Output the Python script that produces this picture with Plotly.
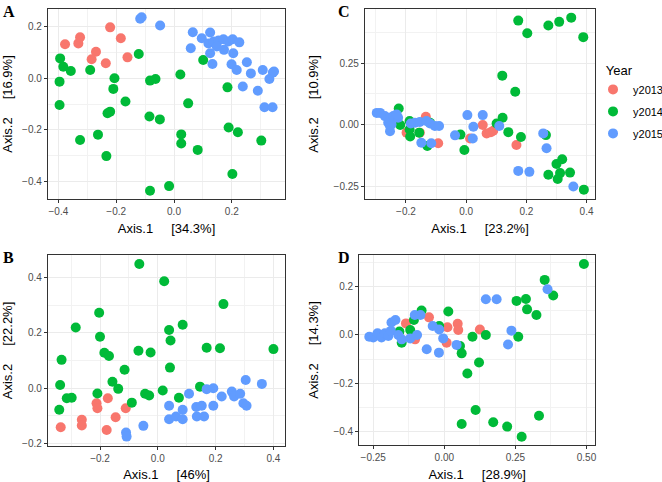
import plotly.graph_objects as go

# Couleurs ggplot par défaut
COULEURS = {"y2013": "#F8766D", "y2014": "#00BA38", "y2015": "#619CFF"}
ANNEES = ["y2013", "y2014", "y2015"]

# Panneau A
a_x_2013 = [-0.377, -0.331, -0.325, -0.221, -0.184, -0.270, -0.285, -0.236, -0.161]
a_y_2013 = [0.132, 0.135, 0.159, 0.197, 0.155, 0.103, 0.074, 0.058, 0.081]
a_x_2014 = [-0.394, -0.383, -0.357, -0.396, -0.396, -0.290, -0.206, -0.210, -0.168, -0.230, -0.221,
            -0.325, -0.263, -0.234, -0.122, -0.083, -0.064, -0.085, -0.049, -0.083, -0.017, 0.022,
            0.025, 0.025, 0.049, 0.082, 0.101, 0.185, 0.189, 0.221, 0.202, 0.302]
a_y_2014 = [0.077, 0.045, 0.028, -0.013, -0.103, 0.032, 0.000, -0.041, -0.090, -0.135, -0.129,
            -0.239, -0.218, -0.301, 0.094, -0.009, -0.003, -0.148, -0.159, -0.435, -0.417, 0.015,
            -0.217, -0.252, -0.097, -0.277, 0.071, -0.035, -0.190, -0.209, -0.370, -0.241]
a_x_2015 = [-0.117, -0.112, -0.048, 0.065, 0.058, 0.096, 0.125, 0.119, 0.137, 0.125, 0.133, 0.154,
            0.171, 0.173, 0.188, 0.203, 0.226, 0.205, 0.199, 0.217, 0.252, 0.266, 0.238, 0.290,
            0.307, 0.330, 0.342, 0.346, 0.313, 0.341, 0.148]
a_y_2015 = [0.230, 0.236, 0.204, 0.178, 0.116, 0.155, 0.177, 0.135, 0.142, 0.097, 0.055, 0.146,
            0.151, 0.110, 0.142, 0.151, 0.139, 0.097, 0.054, 0.032, 0.062, 0.019, -0.032, -0.048,
            0.032, -0.003, 0.022, 0.026, -0.112, -0.112, 0.123]

# Panneau B
b_x_2013 = [-0.336, -0.263, -0.263, -0.212, -0.209, -0.173, -0.177, -0.146, -0.111]
b_y_2013 = [-0.142, -0.115, -0.136, -0.055, -0.073, -0.037, -0.152, -0.106, -0.073]
b_x_2014 = [-0.064, 0.022, 0.227, -0.203, -0.284, -0.200, -0.333, -0.185, -0.169, -0.067, -0.025,
            0.039, 0.086, 0.044, 0.042, 0.169, 0.215, 0.400, -0.115, -0.157, -0.137, -0.338,
            -0.315, -0.298, -0.341, -0.209, -0.090, -0.044, -0.030, 0.017, 0.073, 0.146]
b_y_2014 = [0.449, 0.387, 0.304, 0.273, 0.219, 0.186, 0.102, 0.128, 0.116, 0.135, 0.129,
            0.210, 0.229, 0.172, 0.074, 0.146, 0.144, 0.141, 0.066, 0.023, -0.003, 0.011,
            -0.037, -0.035, -0.079, -0.020, -0.053, -0.021, -0.027, -0.009, -0.035, 0.005]
b_x_2015 = [-0.110, -0.108, -0.050, 0.039, 0.039, 0.063, 0.086, 0.086, 0.108, 0.133, 0.135, 0.152,
            0.160, 0.169, 0.192, 0.192, 0.221, 0.256, 0.264, 0.285, 0.296, 0.307, 0.304, 0.360]
b_y_2015 = [-0.161, -0.176, -0.137, -0.064, -0.113, -0.103, -0.079, -0.113, -0.021, -0.069, -0.103,
            -0.064, -0.103, -0.004, -0.001, -0.064, -0.031, -0.013, -0.031, -0.021, -0.055, -0.064,
            0.029, 0.015]

# Panneau C
c_x_2013 = [-0.198, -0.154, -0.134, -0.093, 0.013, 0.055, 0.068, 0.082, 0.090, 0.167]
c_y_2013 = [-0.032, -0.032, 0.032, -0.075, -0.056, -0.001, -0.035, -0.030, -0.024, -0.082]
c_x_2014 = [0.173, 0.203, 0.273, 0.309, 0.349, 0.389, 0.120, 0.163, 0.121, 0.101, 0.140, 0.182,
            0.265, 0.273, 0.300, 0.319, 0.312, 0.304, 0.345, 0.391, -0.006, -0.019, -0.224,
            -0.219, -0.188, -0.188, -0.186, -0.156, -0.129, -0.120]
c_y_2014 = [0.422, 0.371, 0.402, 0.417, 0.434, 0.355, 0.199, 0.134, 0.028, 0.005, -0.030, -0.050,
            -0.042, -0.203, -0.159, -0.140, -0.196, -0.220, -0.194, -0.263, -0.102, -0.040, 0.066,
            -0.001, 0.015, -0.019, -0.048, -0.032, -0.086, 0.008]
c_x_2015 = [-0.297, -0.286, -0.270, -0.253, -0.259, -0.248, -0.242, -0.226, -0.231, -0.253, -0.253,
            -0.184, -0.170, -0.154, -0.132, -0.120, -0.104, -0.090, -0.149, -0.116, -0.037, 0.004,
            0.024, 0.022, 0.055, 0.110, 0.173, 0.210, 0.256, 0.267, 0.356]
c_y_2015 = [0.048, 0.048, 0.035, 0.028, 0.008, 0.001, 0.035, 0.028, 0.042, -0.005, -0.026,
            0.005, 0.008, 0.011, 0.015, 0.005, -0.005, -0.005, -0.073, -0.075, -0.043, 0.039,
            -0.008, -0.056, 0.039, -0.005, -0.187, -0.191, -0.035, -0.095, -0.250]

# Panneau D
d_x_2013 = [-0.135, -0.054, 0.008, 0.011, 0.047, 0.049, 0.125, -0.103]
d_y_2013 = [0.048, 0.073, -0.032, 0.032, 0.046, 0.021, 0.023, -0.018]
d_x_2014 = [0.491, 0.353, 0.383, 0.254, 0.287, 0.291, 0.324, 0.260, 0.146, 0.099, 0.122, 0.081,
            0.061, 0.055, 0.014, -0.018, -0.080, -0.107, -0.120, -0.150, -0.158, 0.110, 0.061,
            0.172, 0.221, 0.272, 0.333]
d_y_2014 = [0.294, 0.228, 0.163, 0.141, 0.149, 0.106, 0.083, -0.007, 0.000, -0.007, -0.114, -0.159,
            -0.076, -0.046, 0.097, 0.037, 0.101, 0.062, 0.021, -0.032, 0.014, -0.310, -0.368,
            -0.361, -0.379, -0.421, -0.334]
d_x_2015 = [-0.264, -0.250, -0.235, -0.221, -0.209, -0.197, -0.188, -0.186, -0.172, -0.162, -0.150,
            -0.120, -0.096, -0.104, -0.084, -0.041, -0.018, -0.004, -0.062, -0.019, 0.043, 0.146,
            0.184, 0.236, 0.224, 0.363]
d_y_2015 = [-0.007, -0.010, 0.007, -0.010, 0.007, -0.004, 0.017, 0.052, 0.062, 0.000, -0.018,
            -0.014, 0.000, 0.083, 0.083, 0.037, 0.023, -0.014, -0.059, -0.073, -0.041, 0.148,
            0.148, 0.018, -0.039, 0.189]

# Pourcentages de variance expliquée (titres d'axes)
VARIANCE = {"A": ("34.3%", "16.9%"), "B": ("46%", "22.2%"),
            "C": ("23.2%", "10.9%"), "D": ("28.9%", "14.3%")}

PANNEAUX = {
    "A": [(a_x_2013, a_y_2013), (a_x_2014, a_y_2014), (a_x_2015, a_y_2015)],
    "C": [(c_x_2013, c_y_2013), (c_x_2014, c_y_2014), (c_x_2015, c_y_2015)],
    "B": [(b_x_2013, b_y_2013), (b_x_2014, b_y_2014), (b_x_2015, b_y_2015)],
    "D": [(d_x_2013, d_y_2013), (d_x_2014, d_y_2014), (d_x_2015, d_y_2015)],
}

# domaines, bornes et pas des axes (sy = écart du titre de l'axe y)
MISE_EN_PAGE = {
    "A": dict(n="", dx=[0.0725, 0.4305], dy=[0.5871, 0.9813], rx=[-0.436, 0.384], ry=[-0.467, 0.268],
              tx=0.2, ty=0.2, fx=".1f", fy=".1f", sy=7),
    "C": dict(n="2", dx=[0.5514, 0.8988], dy=[0.5871, 0.9813], rx=[-0.336, 0.428], ry=[-0.301, 0.469],
              tx=0.2, ty=0.25, fx=".1f", fy=".2f", sy=11),
    "B": dict(n="3", dx=[0.0725, 0.4305], dy=[0.0747, 0.4710], rx=[-0.380, 0.440], ry=[-0.210, 0.482],
              tx=0.2, ty=0.2, fx=".1f", fy=".1f", sy=8),
    "D": dict(n="4", dx=[0.5428, 0.8988], dy=[0.0768, 0.4710], rx=[-0.299, 0.530], ry=[-0.455, 0.331],
              tx=0.25, ty=0.2, fx=".2f", fy=".1f", sy=11),
}

POLICE = "Liberation Sans, Arial, Helvetica, sans-serif"
ESP = "\u00a0" * 5

fig = go.Figure()
layout = {}

for lettre, series in PANNEAUX.items():
    m = MISE_EN_PAGE[lettre]
    for i, (xs, ys) in enumerate(series):
        annee = ANNEES[i]
        fig.add_trace(go.Scatter(x=xs, y=ys, mode="markers", name=annee,
                                 legendgroup=annee, showlegend=(lettre == "A"),
                                 marker=dict(color=COULEURS[annee], size=10, line=dict(width=0)),
                                 xaxis="x" + m["n"], yaxis="y" + m["n"]))
    commun = dict(showline=True, mirror=True, linecolor="#333333", linewidth=1.3,
                  showgrid=True, gridcolor="#EBEBEB", gridwidth=1, zeroline=False,
                  ticks="outside", ticklen=3, tickcolor="#333333",
                  tickfont=dict(size=10, color="#4D4D4D", family=POLICE),
                  minor=dict(showgrid=True, gridcolor="#F2F2F2", gridwidth=0.6),
                  title_font=dict(size=13, color="black", family=POLICE))
    layout["xaxis" + m["n"]] = dict(commun, domain=m["dx"], range=m["rx"], dtick=m["tx"], tick0=0,
                                    tickformat=m["fx"], anchor="y" + m["n"],
                                    minor=dict(commun["minor"], dtick=m["tx"] / 2, tick0=0),
                                    title=dict(text="Axis.1" + ESP + "[" + VARIANCE[lettre][0] + "]",
                                               standoff=7))
    layout["yaxis" + m["n"]] = dict(commun, domain=m["dy"], range=m["ry"], dtick=m["ty"], tick0=0,
                                    tickformat=m["fy"], anchor="x" + m["n"],
                                    minor=dict(commun["minor"], dtick=m["ty"] / 2, tick0=0),
                                    title=dict(text="Axis.2" + ESP + "[" + VARIANCE[lettre][1] + "]",
                                               standoff=m["sy"]))

fig.update_layout(**layout)

# lettres des panneaux
for lettre, (px_x, px_y) in {"A": (0.002, 0.998), "C": (0.508, 0.998),
                              "B": (0.002, 0.488), "D": (0.508, 0.488)}.items():
    fig.add_annotation(text="<b>" + lettre + "</b>", x=px_x, y=px_y, xref="paper", yref="paper",
                       xanchor="left", yanchor="top", showarrow=False,
                       font=dict(size=16, family="Liberation Serif, Times New Roman, serif", color="black"))

fig.update_layout(
    width=662, height=482, margin=dict(l=0, r=0, t=0, b=0, autoexpand=False),
    paper_bgcolor="white", plot_bgcolor="white",
    font=dict(family=POLICE, color="black"),
    legend=dict(title=dict(text="\u00a0\u00a0\u00a0Year", font=dict(size=13)), font=dict(size=11),
                x=0.8958, y=0.8797, xanchor="left", yanchor="top",
                itemsizing="trace", tracegroupgap=3, bgcolor="rgba(0,0,0,0)"),
)

# la marge par défaut du <body> décale la figure de 8 px
fig.write_html("out.html", config={"displayModeBar": False},
               post_script="document.body.style.margin = '0';")
